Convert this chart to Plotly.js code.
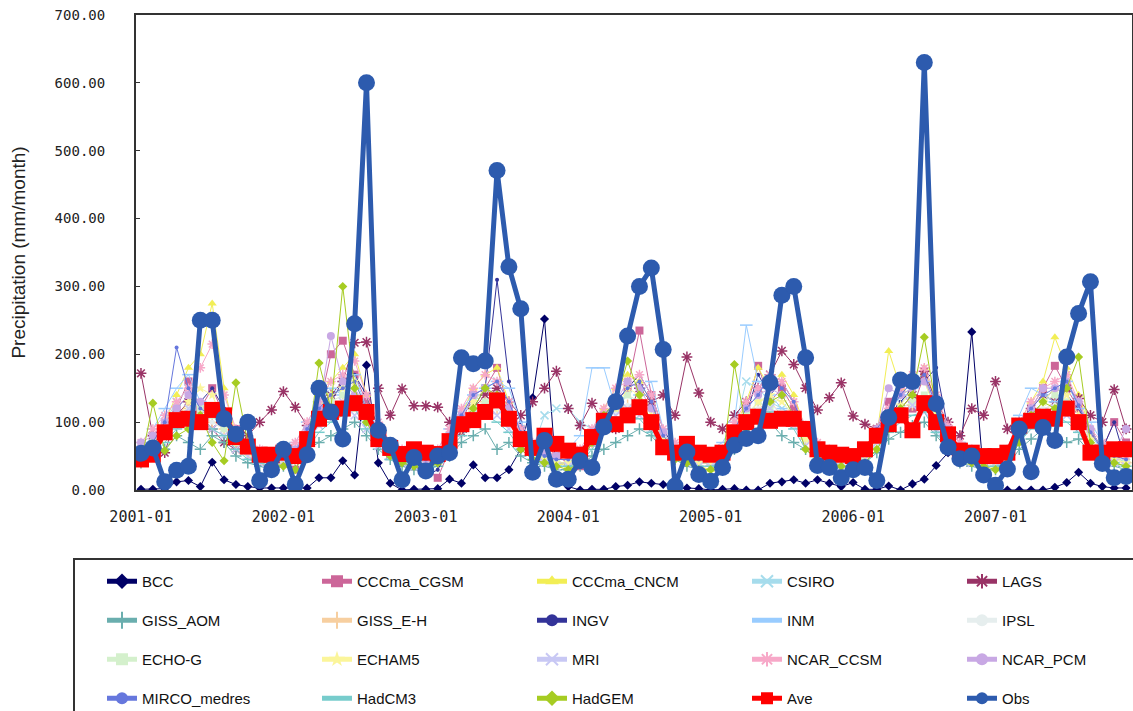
<!DOCTYPE html>
<html>
<head>
<meta charset="utf-8">
<script src="https://cdn.plot.ly/plotly-3.0.1.min.js"></script>
<style>html,body{margin:0;padding:0;background:#fff;}#chart{width:1133px;height:711px;}</style>
</head>
<body>
<div id="chart"></div>
<script>
// ---------- DATA (monthly precipitation, mm/month, 2001-01 .. 2007-12) ----------
const years = ['2001','2002','2003','2004','2005','2006','2007'];
const monthNums = ['01','02','03','04','05','06','07','08','09','10','11','12'];
const tickLabels = ['2001-01','2002-01','2003-01','2004-01','2005-01','2006-01','2007-01'];

const BCC = [
  1, 1, 2, 12, 14, 5, 41, 15, 8, 5, 3, 3,
  3, 3, 3, 18, 18, 43, 22, 184, 40, 10, 0, 1,
  1, 2, 16, 10, 37, 18, 18, 30, 60, 136, 252, 20,
  5, 0, 1, 1, 5, 7, 12, 10, 8, 2, 3, 2,
  0, 1, 2, 0, 0, 10, 12, 15, 10, 15, 10, 5,
  11, 1, 1, 6, 0, 9, 16, 36, 55, 45, 233, 20,
  0, 0, 0, 0, 0, 4, 11, 26, 10, 5, 3, 3];
const CCCma_CGSM = [
  40, 60, 80, 120, 160, 120, 150, 110, 90, 70, 40, 30,
  45, 30, 70, 120, 200, 220, 170, 130, 80, 50, 40, 35,
  30, 18, 60, 100, 140, 150, 180, 120, 90, 60, 70, 50,
  40, 35, 70, 110, 130, 150, 235, 140, 70, 50, 60, 45,
  40, 50, 90, 120, 183, 130, 150, 120, 80, 55, 50, 45,
  40, 60, 90, 130, 150, 120, 170, 110, 90, 60, 50, 40,
  45, 55, 100, 120, 150, 183, 150, 120, 80, 60, 100, 70];
const CCCma_CNCM = [
  50, 60, 100, 140, 180, 200, 275, 150, 80, 60, 40, 30,
  40, 50, 80, 130, 160, 180, 200, 140, 90, 60, 40, 35,
  35, 40, 70, 110, 150, 170, 180, 130, 80, 60, 50, 40,
  35, 40, 80, 120, 150, 170, 160, 130, 70, 50, 40, 35,
  30, 50, 90, 130, 180, 150, 170, 140, 90, 50, 40, 35,
  30, 50, 80, 205, 150, 140, 180, 130, 90, 60, 40, 35,
  35, 50, 100, 130, 160, 225, 180, 140, 90, 60, 50, 40];
const CSIRO = [
  60, 80, 100, 130, 150, 120, 110, 100, 80, 60, 50, 40,
  50, 60, 90, 120, 140, 150, 130, 110, 80, 60, 50, 45,
  40, 50, 80, 110, 130, 150, 160, 130, 90, 60, 110, 120,
  120, 100, 90, 110, 130, 140, 120, 100, 80, 60, 50, 40,
  45, 55, 90, 160, 150, 130, 120, 110, 80, 60, 50, 45,
  40, 50, 80, 100, 130, 140, 120, 110, 80, 60, 50, 40,
  45, 60, 100, 120, 140, 130, 120, 100, 80, 60, 50, 40];
const LAGS = [
  172, 80, 55, 110, 130, 100, 90, 70, 60, 80, 100, 118,
  145, 122, 95, 110, 140, 160, 217, 218, 150, 110, 149, 124,
  124, 122, 100, 85, 120, 140, 150, 130, 110, 130, 150, 175,
  120, 95, 128, 100, 90, 110, 150, 130, 140, 110, 196, 143,
  100, 90, 110, 130, 150, 170, 205, 185, 150, 118, 136, 158,
  109, 97, 90, 110, 120, 140, 175, 130, 100, 80, 120, 110,
  160, 90, 100, 120, 140, 130, 150, 135, 110, 100, 148, 90];
const GISS_AOM = [
  40, 50, 60, 80, 70, 60, 80, 70, 50, 40, 35, 30,
  35, 40, 60, 70, 80, 90, 100, 80, 60, 45, 35, 30,
  30, 35, 50, 70, 80, 90, 60, 70, 50, 40, 35, 30,
  30, 35, 50, 60, 70, 80, 90, 80, 60, 45, 35, 30,
  30, 40, 60, 80, 90, 100, 80, 70, 60, 45, 35, 30,
  30, 40, 55, 75, 85, 95, 100, 80, 60, 40, 35, 30,
  30, 35, 60, 75, 90, 80, 70, 75, 55, 40, 35, 30];
const GISS_EH = [
  50, 60, 90, 110, 120, 110, 100, 90, 70, 55, 45, 40,
  40, 45, 70, 100, 120, 130, 140, 110, 80, 60, 45, 40,
  35, 45, 70, 90, 110, 130, 120, 100, 75, 55, 45, 40,
  40, 45, 70, 95, 120, 125, 130, 100, 70, 55, 45, 40,
  40, 45, 75, 100, 120, 130, 110, 100, 75, 55, 45, 40,
  40, 50, 75, 95, 115, 125, 130, 110, 80, 55, 45, 40,
  40, 50, 80, 100, 120, 125, 120, 100, 75, 55, 45, 40];
const INGV = [
  50, 60, 90, 120, 140, 130, 150, 120, 80, 60, 50, 40,
  40, 50, 80, 110, 130, 160, 170, 140, 90, 60, 45, 40,
  20, 30, 60, 100, 120, 150, 310, 160, 100, 60, 50, 40,
  40, 50, 80, 110, 130, 150, 170, 140, 90, 60, 50, 40,
  40, 50, 80, 110, 170, 140, 160, 130, 90, 60, 50, 40,
  40, 50, 80, 110, 130, 150, 160, 180, 90, 60, 50, 40,
  40, 50, 90, 110, 130, 150, 140, 120, 90, 60, 100, 40];
const INM = [
  70, 90, 120, 150, 170, 130, 120, 100, 80, 70, 60, 50,
  60, 70, 100, 130, 150, 140, 170, 120, 90, 70, 60, 50,
  50, 60, 90, 120, 140, 150, 160, 150, 100, 70, 80, 60,
  60, 80, 180, 180, 120, 100, 140, 160, 90, 70, 60, 50,
  60, 70, 100, 243, 160, 140, 120, 110, 90, 70, 60, 50,
  50, 60, 90, 110, 140, 150, 160, 120, 90, 70, 60, 50,
  50, 60, 110, 150, 140, 130, 160, 120, 100, 70, 60, 50];
const IPSL = [
  60, 70, 90, 110, 120, 110, 100, 90, 70, 60, 50, 45,
  50, 55, 80, 100, 120, 130, 120, 100, 75, 60, 50, 45,
  45, 55, 75, 100, 115, 125, 120, 100, 75, 60, 50, 45,
  45, 55, 80, 100, 115, 125, 120, 100, 75, 60, 50, 45,
  45, 55, 80, 105, 120, 125, 115, 100, 75, 60, 50, 45,
  45, 55, 80, 100, 115, 125, 125, 100, 75, 60, 50, 45,
  45, 55, 85, 105, 120, 125, 120, 100, 75, 60, 50, 45];
const ECHO_G = [
  60, 70, 90, 110, 100, 120, 110, 90, 70, 55, 45, 40,
  45, 55, 80, 100, 130, 140, 120, 100, 70, 55, 45, 40,
  40, 50, 70, 100, 120, 130, 140, 100, 70, 55, 45, 40,
  40, 50, 80, 100, 120, 140, 130, 100, 70, 55, 45, 40,
  40, 50, 80, 110, 130, 120, 140, 110, 75, 55, 45, 40,
  40, 50, 80, 110, 120, 130, 140, 110, 70, 55, 45, 40,
  40, 50, 90, 110, 130, 140, 130, 100, 70, 55, 45, 40];
const ECHAM5 = [
  55, 65, 85, 105, 130, 150, 140, 100, 70, 55, 45, 40,
  45, 50, 75, 100, 140, 150, 160, 120, 80, 55, 45, 40,
  40, 50, 70, 95, 130, 150, 130, 110, 75, 55, 45, 40,
  40, 50, 75, 100, 120, 150, 140, 110, 75, 55, 45, 40,
  40, 50, 80, 105, 130, 140, 130, 110, 75, 55, 45, 40,
  40, 50, 75, 100, 125, 150, 160, 115, 75, 55, 45, 40,
  40, 50, 85, 105, 130, 150, 140, 110, 75, 55, 45, 40];
const MRI = [
  50, 60, 80, 100, 120, 100, 90, 80, 60, 50, 40, 35,
  40, 45, 70, 95, 110, 130, 110, 90, 65, 50, 40, 35,
  35, 45, 65, 90, 110, 120, 110, 90, 65, 50, 40, 35,
  35, 45, 70, 95, 110, 120, 110, 90, 60, 50, 40, 35,
  35, 45, 75, 100, 115, 120, 110, 95, 65, 50, 40, 35,
  35, 45, 70, 95, 110, 125, 115, 90, 60, 50, 40, 35,
  35, 45, 80, 100, 115, 120, 110, 90, 60, 50, 40, 35];
const NCAR_CCSM = [
  70, 90, 110, 130, 150, 180, 215, 140, 90, 70, 60, 50,
  60, 70, 100, 130, 160, 170, 190, 140, 100, 70, 60, 50,
  50, 60, 90, 120, 150, 170, 160, 130, 90, 70, 60, 50,
  50, 60, 90, 120, 150, 160, 170, 140, 90, 70, 60, 50,
  50, 60, 100, 130, 150, 170, 160, 130, 95, 70, 60, 50,
  50, 60, 90, 120, 150, 170, 180, 140, 95, 70, 60, 50,
  50, 60, 100, 130, 150, 160, 170, 130, 90, 70, 60, 50];
const NCAR_PCM = [
  70, 80, 100, 120, 140, 130, 120, 100, 80, 60, 50, 45,
  55, 60, 90, 120, 227, 160, 140, 120, 80, 60, 50, 45,
  45, 55, 80, 110, 140, 150, 140, 120, 80, 60, 55, 50,
  50, 55, 85, 110, 130, 160, 150, 120, 85, 60, 55, 50,
  50, 55, 90, 120, 140, 150, 140, 110, 85, 60, 55, 50,
  50, 60, 90, 150, 140, 150, 160, 130, 90, 60, 55, 50,
  50, 60, 100, 120, 150, 150, 160, 130, 90, 60, 55, 90];
const MIRCO_medres = [
  55, 70, 100, 210, 150, 120, 110, 100, 80, 60, 50, 45,
  50, 55, 90, 120, 140, 150, 160, 120, 85, 60, 50, 45,
  45, 50, 80, 110, 140, 150, 160, 130, 85, 60, 50, 45,
  45, 55, 85, 110, 130, 150, 160, 130, 80, 60, 50, 45,
  45, 55, 90, 120, 140, 170, 150, 130, 85, 60, 50, 45,
  45, 55, 90, 115, 140, 160, 170, 125, 85, 60, 50, 45,
  45, 55, 100, 120, 140, 150, 160, 125, 85, 60, 50, 45];
const HadCM3 = [
  40, 50, 70, 90, 100, 110, 90, 80, 60, 45, 40, 35,
  35, 40, 60, 85, 100, 110, 120, 90, 65, 45, 40, 35,
  30, 40, 60, 80, 95, 110, 100, 85, 60, 45, 40, 35,
  35, 40, 60, 85, 100, 110, 105, 85, 60, 45, 40, 35,
  35, 40, 65, 90, 100, 115, 100, 90, 60, 45, 40, 35,
  35, 40, 60, 85, 100, 110, 115, 85, 60, 45, 40, 35,
  35, 40, 70, 90, 105, 110, 100, 85, 60, 45, 40, 35];
const HadGEM = [
  40, 128, 58, 80, 90, 110, 70, 43, 158, 70, 50, 40,
  35, 30, 60, 187, 120, 300, 150, 100, 70, 50, 40, 35,
  30, 40, 60, 100, 120, 150, 140, 110, 60, 45, 40, 35,
  30, 40, 70, 110, 130, 190, 140, 100, 60, 45, 40, 30,
  30, 40, 185, 90, 110, 130, 140, 110, 60, 45, 40, 35,
  35, 40, 60, 90, 120, 140, 225, 120, 70, 45, 40, 35,
  30, 40, 70, 110, 130, 120, 150, 196, 70, 50, 40, 35];
const Ave = [
  45, 52, 85, 103, 105, 100, 118, 110, 78, 64, 52, 52,
  55, 50, 75, 105, 115, 120, 128, 115, 75, 62, 53, 60,
  55, 53, 72, 97, 103, 115, 132, 105, 75, 62, 80, 68,
  58, 52, 78, 102, 97, 110, 122, 100, 63, 55, 68, 55,
  52, 55, 85, 100, 108, 102, 105, 105, 90, 60, 55, 52,
  50, 60, 80, 97, 110, 88, 128, 100, 82, 58, 55, 50,
  50, 55, 95, 102, 108, 105, 120, 100, 55, 55, 60, 60];
const Obs = [
  54, 62, 12, 29, 35, 250, 250, 105, 82, 100, 14, 30,
  60, 8, 52, 150, 115, 75, 245, 600, 88, 66, 15, 48,
  28, 50, 55, 195, 186, 190, 471, 329, 267, 26, 73, 16,
  16, 43, 33, 93, 130, 227, 300, 327, 207, 6, 56, 23,
  13, 33, 66, 76, 80, 158, 287, 300, 195, 36, 33, 18,
  30, 33, 14, 107, 162, 160, 630, 127, 63, 46, 50, 22,
  7, 31, 90, 27, 92, 73, 196, 260, 307, 39, 18, 20];

// ---------- BUILD ----------
const months = [];
years.forEach(y => monthNums.forEach(m => months.push(y + '-' + m)));

const defs = [
  ['BCC', BCC, '#000066', 'diamond', 7, 1],
  ['CCCma_CGSM', CCCma_CGSM, '#cc6699', 'square', 8, 1],
  ['CCCma_CNCM', CCCma_CNCM, '#f2ee55', 'triangle-up', 8, 1],
  ['CSIRO', CSIRO, '#a6dcec', 'x-thin-open', 8, 1],
  ['LAGS', LAGS, '#993366', 'asterisk-open', 9, 1],
  ['GISS_AOM', GISS_AOM, '#6aaeae', 'cross-thin-open', 8, 1],
  ['GISS_E-H', GISS_EH, '#f7cfa0', 'cross-thin-open', 8, 1],
  ['INGV', INGV, '#333399', 'circle', 4, 1],
  ['INM', INM, '#99ccff', 'line-ew-open', 9, 1],
  ['IPSL', IPSL, '#e6eeee', 'circle', 5, 1],
  ['ECHO-G', ECHO_G, '#d4f0cc', 'square', 7, 1],
  ['ECHAM5', ECHAM5, '#fbf59a', 'star', 8, 1],
  ['MRI', MRI, '#c8c8f4', 'x-thin-open', 8, 1],
  ['NCAR_CCSM', NCAR_CCSM, '#f7a8c8', 'asterisk-open', 8, 1],
  ['NCAR_PCM', NCAR_PCM, '#c8a8e4', 'circle', 8, 1],
  ['MIRCO_medres', MIRCO_medres, '#6677dd', 'circle', 4, 1],
  ['HadCM3', HadCM3, '#77cccc', 'line-ew-open', 8, 1],
  ['HadGEM', HadGEM, '#a6cc22', 'diamond', 7, 1],
  ['Ave', Ave, '#ff0000', 'square', 16, 5],
  ['Obs', Obs, '#2d5bae', 'circle', 17, 5]
];
const legendIds = ['legend', 'legend2', 'legend3', 'legend4'];

const traces = defs.map((d, i) => {
  const open = d[3].indexOf('open') >= 0;
  return {
    type: 'scatter', mode: 'lines+markers', name: d[0],
    x: months, y: d[1],
    line: {color: d[2], width: d[5]},
    marker: {symbol: d[3], size: d[4], color: d[2],
             line: {color: d[2], width: open ? 1.5 : 0}},
    legend: legendIds[Math.floor(i / 5)],
    hoverinfo: 'x+y+name'
  };
});

// pixel helpers for layout placement (plot area: x 136..1132, y 15..490)
const PL = 136, PW = 996, PT = 15, PH = 475;
const px2x = p => (p - PL) / PW;
const px2y = p => (PT + PH - p) / PH;

const rowCenters = [581, 620, 659, 698];
const legendBase = {
  orientation: 'h', xanchor: 'left', yanchor: 'top',
  entrywidth: 170, entrywidthmode: 'pixels', itemsizing: 'constant',
  bgcolor: 'rgba(0,0,0,0)', borderwidth: 0,
  font: {family: 'Liberation Sans, Arial, sans-serif', size: 15, color: '#111'},
  itemclick: false, itemdoubleclick: false
};

const layout = {
  width: 1133, height: 711,
  margin: {l: PL, r: 1133 - PL - PW, t: PT, b: 711 - PT - PH, autoexpand: false},
  paper_bgcolor: '#ffffff', plot_bgcolor: '#ffffff',
  showlegend: true,
  xaxis: {
    type: 'category', range: [-0.42, 83.5],
    tickmode: 'array', tickvals: tickLabels, ticktext: tickLabels,
    showgrid: false, zeroline: false, showline: true, mirror: true,
    linecolor: '#333', linewidth: 2, ticks: '',
    ticklabelstandoff: 12,
    tickfont: {family: 'DejaVu Sans Mono, monospace', size: 15, color: '#222'}
  },
  yaxis: {
    range: [0, 700], dtick: 100, tickformat: '.2f',
    showgrid: false, zeroline: false, showline: true, mirror: true,
    linecolor: '#333', linewidth: 2, ticks: 'inside', ticklen: 4, tickcolor: '#333',
    ticklabelstandoff: 26,
    tickfont: {family: 'DejaVu Sans Mono, monospace', size: 14, color: '#222'},
    title: {text: 'Precipitation (mm/month)', standoff: 24,
            font: {family: 'Liberation Sans, Arial, sans-serif', size: 19, color: '#222'}}
  },
  shapes: [{
    type: 'rect', xref: 'paper', yref: 'paper',
    x0: px2x(74), x1: px2x(1145), y0: px2y(559), y1: px2y(725),
    line: {color: '#333', width: 2}, fillcolor: 'rgba(0,0,0,0)', layer: 'below'
  }]
};
legendIds.forEach((id, r) => {
  layout[id] = Object.assign({}, legendBase, {x: px2x(102), y: px2y(rowCenters[r] - 16)});
});

Plotly.newPlot('chart', traces, layout, {displayModeBar: false, staticPlot: true});
</script>
</body>
</html>
